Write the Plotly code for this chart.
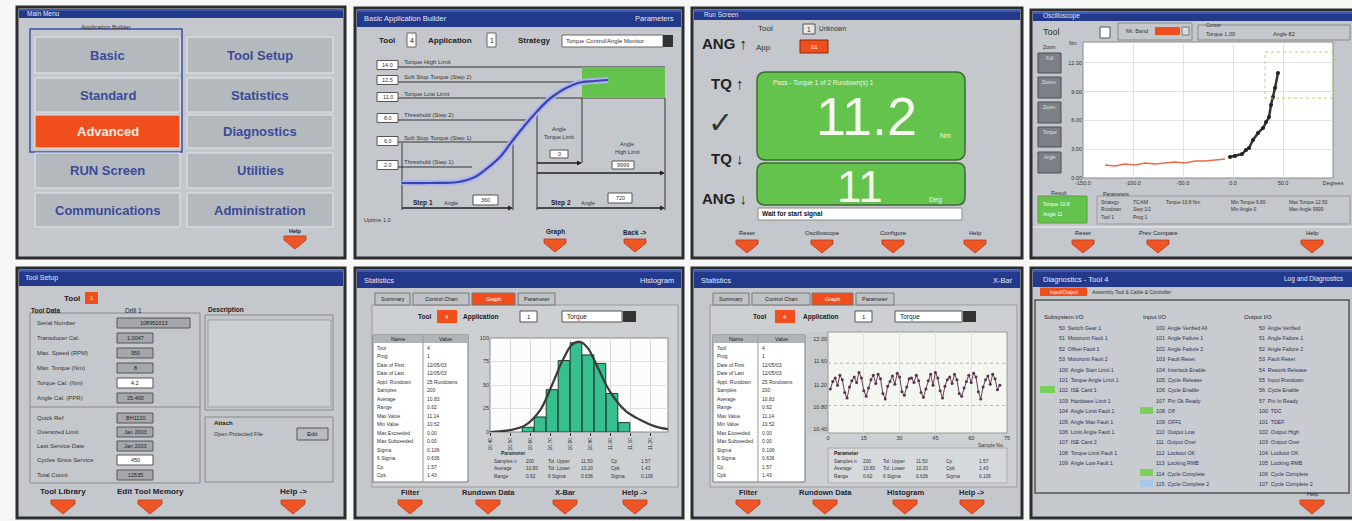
import plotly.graph_objects as go

W, H = 1352, 521
FONT = "Liberation Sans, Arial, sans-serif"

# ---------------- data ----------------
menu_left = ["Basic", "Standard", "Advanced", "RUN Screen", "Communications"]
menu_right = ["Tool Setup", "Statistics", "Diagnostics", "Utilities", "Administration"]
menu_selected = "Advanced"

builder_labels = ["Torque High Limit", "Soft Stop Torque (Step 2)", "Torque Low Limit",
                  "Threshold (Step 2)", "Soft Stop Torque (Step 1)", "Threshold (Step 1)"]
builder_values = ["14.0", "12.5", "11.0", "8.0", "6.0", "2.0"]
curve_angle = [7, 35, 63, 80, 90, 105, 118, 137, 157, 183, 200, 213]
curve_torque = [2.7, 2.7, 2.8, 3.3, 4.0, 5.3, 7.0, 9.3, 11.3, 12.7, 12.9, 13.0]

run_status = "Pass - Torque 1 of 2 Rundown(s) 1"
run_torque = "11.2"
run_angle = "11"
run_message = "Wait for start signal"

scope_red_angle = [22, 32, 42, 52, 62, 72, 82, 92, 102, 112, 122, 132, 142]
scope_red_torque = [1.35, 1.25, 1.46, 1.35, 1.56, 1.46, 1.56, 1.67, 1.56, 1.77, 1.77, 1.88, 1.98]
scope_black_angle = [147, 152, 159, 163, 166, 170, 175, 180, 183, 186, 188, 190, 192, 195]
scope_black_torque = [2.19, 2.29, 2.5, 2.92, 3.13, 3.96, 4.69, 5.21, 5.83, 6.35, 7.6, 8.44, 9.38, 10.94]
scope_xticks = [0, 50, 100, 150, 200, 250]
scope_xlabels = ["-150.0", "-100.0", "-50.0", "0.0", "50.0", "Degrees"]
scope_yticks = [0, 3, 6, 9, 12]
scope_ylabels = ["0.00", "3.00", "6.00", "9.00", "12.00"]
scope_buttons = ["Full", "Zoom+", "Zoom-", "Torque", "Angle"]
scope_params = [["Strategy", "TC/AM", "Torque 10.8 Nm", "Min Torque 9.80", "Max Torque 12.50"],
                ["Rundown", "Step 1/2", "", "Min Angle 0", "Max Angle 9999"],
                ["Tool 1", "Prog 1", "", "", ""]]

tool_fields_top = ["Serial Number", "Transducer Cal.", "Max. Speed (RPM)", "Max. Torque (Nm)",
                   "Torque Cal. (Nm)", "Angle Cal. (PPR)"]
tool_values_top = ["108951013", "1.0047", "950", "8", "4.2", "25.400"]
tool_fields_bot = ["Quick Ref.", "Oversized Limit", "Last Service Date", "Cycles Since Service", "Total Count"]
tool_values_bot = ["BH1120", "Jan 2003", "Jan 2003", "450", "12535"]

stat_names = ["Tool", "Prog", "Date of First", "Date of Last", "Appl. Rundown", "Samples", "Average",
              "Range", "Max Value", "Min Value", "Max Exceeded", "Max Subceeded", "Sigma", "6 Sigma",
              "Cp", "Cpk"]
stat_values = ["4", "1", "12/05/03", "12/05/03", "25 Rundowns", "200", "10.83", "0.62", "11.14",
               "10.52", "0.00", "0.00", "0.106", "0.636", "1.57", "1.43"]
param_rows = [["Samples n", "200", "Tol. Upper", "11.50", "Cp", "1.57"],
              ["Average", "10.83", "Tol. Lower", "10.20", "Cpk", "1.43"],
              ["Range", "0.62", "6 Sigma", "0.636", "Sigma", "0.106"]]

hist_centers = [10.59, 10.65, 10.71, 10.77, 10.83, 10.89, 10.95, 11.01, 11.07]
hist_counts = [5, 16, 45, 76, 95, 82, 73, 41, 10]
norm_x = [10.40, 10.50, 10.575, 10.65, 10.71, 10.765, 10.81, 10.85, 10.89, 10.94, 11.00, 11.075, 11.15, 11.225, 11.29]
norm_y = [0, 2, 7, 23, 50, 77, 93, 96, 89, 68, 43, 23, 13, 6, 3]
hist_xticks = [10.4, 10.5, 10.6, 10.7, 10.8, 10.9, 11.0, 11.1, 11.2]
hist_yticks = [0, 25, 50, 75, 100]

xbar_values = [48, 56, 60, 52, 63, 58, 44, 38,
               50, 57, 61, 55, 66, 60, 46, 40,
               49, 58, 63, 54, 64, 59, 43, 37,
               51, 56, 62, 53, 65, 61, 45, 41,
               50, 59, 60, 55, 63, 57, 44, 39,
               48, 57, 64, 52, 66, 60, 46, 38,
               51, 58, 61, 54, 64, 58, 43, 40,
               49, 56, 63, 55, 65, 61, 45, 37,
               50, 58, 62, 53, 64, 59, 47, 52]
xbar_ucl = 76
xbar_lcl = 30
xbar_xticks = [0, 15, 30, 45, 60, 75]
xbar_yticks = [4, 28, 52, 78, 102]
xbar_ylabels = ["10.40", "10.80", "11.20", "11.60", "12.00"]

diag_col1 = ["50  Switch Gear 1", "51  Motorunit Fault 1", "52  Offset Fault 1", "53  Motorunit Fault 2",
             "100  Angle Start Limit 1", "101  Torque Angle Limit 1", "102  ISE Card 1", "103  Hardware Limit 1",
             "104  Angle Limit Fault 1", "105  Angle Max Fault 1", "106  Limit Angle Fault 1", "107  ISE Card 2",
             "108  Torque Limit Fault 1", "109  Angle Low Fault 1"]
diag_col2 = ["100  Angle Verified All", "101  Angle Failure 1", "102  Angle Failure 2", "103  Fault Reset",
             "104  Interlock Enable", "105  Cycle Release", "106  Cycle Enable", "107  Pin Ok Ready",
             "108  Off", "109  OFF1", "110  Output Low", "111  Output Over", "112  Lockout OK",
             "113  Locking RMB", "114  Cycle Complete", "115  Cycle Complete 2"]
diag_col3 = ["50  Angle Verified", "51  Angle Failure 1", "52  Angle Failure 2", "53  Fault Reset",
             "54  Rework Release", "55  Input Rundown", "56  Cycle Enable", "57  Pin In Ready",
             "100  TDC", "101  TDEF", "102  Output High", "103  Output Over", "104  Lockout OK",
             "105  Locking RMB", "106  Cycle Complete", "107  Cycle Complete 2"]

# ---------------- helpers ----------------
shapes, ann = [], []
PANEL = "#c4c8cc"
FRAME = "#2c2d30"
TITLE = "#23398c"
BTN = "#b4b9be"
BTN_TXT = "#3b4a9a"
ORANGE = "#f04e1c"
GREEN = "#64c34c"
ARROW = "#ef5626"


def R(x0, y0, x1, y1, fill=None, line=None, w=1, dash=None, layer="below"):
    ln = dict(color=line if line else "rgba(0,0,0,0)", width=w if line else 0)
    if dash:
        ln["dash"] = dash
    shapes.append(dict(type="rect", xref="x", yref="y", x0=x0, y0=y0, x1=x1, y1=y1,
                       fillcolor=fill if fill else "rgba(0,0,0,0)", line=ln, layer=layer))


def L(x0, y0, x1, y1, color="#333", w=1, dash=None):
    ln = dict(color=color, width=w)
    if dash:
        ln["dash"] = dash
    shapes.append(dict(type="line", xref="x", yref="y", x0=x0, y0=y0, x1=x1, y1=y1, line=ln, layer="below"))


def P(path, fill, line=None, w=1):
    shapes.append(dict(type="path", xref="x", yref="y", path=path, fillcolor=fill,
                       line=dict(color=line if line else "rgba(0,0,0,0)", width=w if line else 0),
                       layer="below"))


def T(x, y, s, size=6, color="#222", xa="left", bold=False):
    ann.append(dict(x=x, y=y, xref="x", yref="y", text=("<b>%s</b>" % s) if bold else s,
                    showarrow=False, xanchor=xa, yanchor="middle", borderpad=0,
                    font=dict(family=FONT, size=size, color=color)))


def rrect(x0, y0, x1, y1, r, fill, line, w=1.5):
    p = (f"M{x0+r},{y0} L{x1-r},{y0} Q{x1},{y0} {x1},{y0+r} L{x1},{y1-r} Q{x1},{y1} {x1-r},{y1} "
         f"L{x0+r},{y1} Q{x0},{y1} {x0},{y1-r} L{x0},{y0+r} Q{x0},{y0} {x0+r},{y0} Z")
    P(p, fill, line, w)


def arrow(cx, ty, label, ly, size=6, bold=True, hw=11, h=13):
    P(f"M{cx-hw},{ty} L{cx+hw},{ty} L{cx+hw},{ty+4} L{cx},{ty+h} L{cx-hw},{ty+4} Z", ARROW, "#b8381a", 0.8)
    T(cx, ly, label, size, "#1e2430", "center", bold)


def panel(x0, y0, x1, y1, ty1):
    R(x0, y0, x1, y1, fill=PANEL, line=FRAME, w=3)
    R(x0 + 2, y0 + 2, x1 - 2, ty1, fill=TITLE)
    R(x0 + 2, y0 + 2, x1 - 2, y0 + 4, fill="#3a58b0")


def arrowhead(x, y):
    P(f"M{x-5},{y-2.5} L{x},{y} L{x-5},{y+2.5} Z", "#222")


# ================= Panel 1: Main menu =================
panel(17, 7, 345, 258, 18)
T(26, 13, "Main Menu", 6.5, "#e4e9f6")
R(30, 29, 182, 152, line="#3a4fa8", w=1.5)
T(106, 27, "Application Builder", 6, "#333", "center")
rows = [(37, 73), (78, 112), (115, 148), (153, 188), (193, 227)]
for i, (a, b) in enumerate(rows):
    for (xa, xb), lab in (((35, 180), menu_left[i]), ((187, 333), menu_right[i])):
        sel = lab == menu_selected
        R(xa, a, xb, b, fill=ORANGE if sel else BTN, line="#e4e7ea", w=1)
        T((xa + xb) / 2, (a + b) / 2, lab, 13, "#fbe9e0" if sel else BTN_TXT, "center", True)
arrow(295, 236, "Help", 231, 5.5)

# ================= Panel 2: Basic Application Builder =================
panel(355, 8, 683, 258, 27)
T(363, 18, "Basic Application Builder", 7.5, "#e4e9f6")
T(675, 18, "Parameters", 7.5, "#e4e9f6", "right")
T(378, 40, "Tool", 8, "#222", bold=True)
R(407, 33, 416, 47, fill="white", line="#666")
T(411.5, 40, "4", 7, "#222", "center")
T(427, 40, "Application", 8, "#222", bold=True)
R(487, 33, 496, 47, fill="white", line="#666")
T(491.5, 40, "1", 7, "#222", "center")
T(517, 40, "Strategy", 8, "#222", bold=True)
R(562, 35, 663, 47, fill="white", line="#666")
T(565, 41, "Torque Control/Angle Monitor", 6, "#333")
R(663, 35, 673, 47, fill="#333")
for y, x1 in ((67, 665), (82, 612), (98, 665), (120, 528), (142, 513), (167, 472)):
    L(377, y, x1, y, "#333", 1)
R(582, 67, 665, 98, fill=GREEN)
for yc, lab, val in zip((65, 80, 97, 118, 141, 165), builder_labels, builder_values):
    R(377, yc - 4.5, 398, yc + 4.5, fill="white", line="#555")
    T(387.5, yc, val, 5.5, "#333", "center")
    T(403, yc - 3.5, lab, 6, "#333")
for x, a, b in ((402, 143, 210), (513, 142, 210), (537, 113, 210), (582, 98, 163), (665, 98, 210)):
    L(x, a, x, b, "#333", 1)
for xa, xb, y in ((537, 582, 163), (537, 665, 173), (402, 513, 208), (537, 665, 208)):
    L(xa, y, xb - 3, y, "#222", 1.5)
    arrowhead(xb, y)
T(559, 129, "Angle", 5.5, "#333", "center")
T(559, 137, "Torque Limit", 5.5, "#333", "center")
R(550, 150, 568, 158, fill="white", line="#555")
T(559, 154, "0", 5.5, "#333", "center")
T(627, 144, "Angle", 5.5, "#333", "center")
T(627, 152, "High Limit", 5.5, "#333", "center")
R(612, 161, 634, 169, fill="white", line="#555")
T(623, 165, "9999", 5.5, "#333", "center")
T(412, 203, "Step 1", 6.5, "#222", bold=True)
T(443, 203, "Angle", 5.5, "#333")
R(473, 195, 498, 205, fill="white", line="#555")
T(485.5, 200, "360", 5.5, "#333", "center")
T(550, 203, "Step 2", 6.5, "#222", bold=True)
T(580, 203, "Angle", 5.5, "#333")
R(608, 193, 632, 203, fill="white", line="#555")
T(620, 198, "720", 5.5, "#333", "center")
T(363, 220, "Uptime 1.0", 5.5, "#333")
arrow(555, 239, "Graph", 232, 6.5)
arrow(635, 239, "Back ->", 232, 6.5)

# ================= Panel 3: Run screen =================
panel(692, 8, 1022, 258, 20)
T(703, 14, "Run Screen", 6.5, "#e4e9f6")
T(757, 28, "Tool", 8, "#333")
R(803, 24, 815, 34, fill="#e8e8e8", line="#555")
T(809, 29, "1", 6.5, "#333", "center")
T(818, 28, "Unknown", 6.5, "#333")
T(755, 47, "App", 8, "#333")
R(800, 40, 828, 53, fill=ORANGE, line="#8a2a10")
T(814, 46.5, "01", 6, "white", "center")
T(724, 43, "ANG ↑", 15, "#222", "center", True)
T(727, 83, "TQ ↑", 15, "#222", "center", True)
T(720, 122, "✓", 30, "#333", "center")
T(727, 158, "TQ ↓", 15, "#222", "center", True)
T(724, 198, "ANG ↓", 15, "#222", "center", True)
rrect(757, 72, 965, 160, 9, GREEN, "#3e6a34")
T(772, 83, run_status, 6.5, "#eef7e6")
T(866, 116, run_torque, 54, "#f4f8ee", "center")
T(939, 135, "Nm", 7, "#eef7e6")
rrect(757, 163, 965, 205, 8, GREEN, "#3e6a34")
T(860, 186, run_angle, 44, "#f4f8ee", "center")
T(928, 200, "Deg", 7, "#eef7e6")
R(758, 208, 962, 220, fill="white", line="#888")
T(761, 214, run_message, 6.5, "#111", bold=True)
for cx, lab in ((747, "Reset"), (822, "Oscilloscope"), (893, "Configure"), (975, "Help")):
    arrow(cx, 240, lab, 233, 6, False)

# ================= Panel 4: Oscilloscope =================
panel(1031, 10, 1358, 258, 21)
T(1042, 15.5, "Oscilloscope", 6.5, "#e4e9f6")
T(1042, 32, "Tool", 9, "#333")
R(1100, 27, 1110, 38, fill="white", line="#555")
R(1118, 23, 1192, 40, line="#888")
T(1125, 31, "Mr. Band", 5.5, "#333")
R(1155, 27, 1180, 35, fill=ORANGE)
R(1182, 27, 1189, 35, fill="#ddd", line="#777")
R(1198, 25, 1350, 40, line="#888")
T(1205, 25, "Cursor", 5, "#333")
T(1205, 34, "Torque 1.00", 5.5, "#333")
T(1272, 34, "Angle 82", 5.5, "#333")
T(1049, 47, "Zoom", 5, "#333", "center")
for (a, b), lab in zip(((53, 73), (77, 98), (102, 123), (127, 147), (152, 173)), scope_buttons):
    R(1038, a, 1061, b, fill="#7c8086", line="#4a4e54")
    T(1049.5, a + 5, lab, 4.5, "#e0e3e6", "center")
R(1083, 42, 1333, 178, fill="white", line="#888")
T(1068, 43, "Nm", 5, "#333")
T(1050, 193, "Result", 5.5, "#333")
R(1038, 196, 1087, 223, fill=GREEN, line="#5a9a48")
T(1042, 204, "Torque 10.8", 5, "white")
T(1042, 214, "Angle 11", 5, "white")
R(1097, 196, 1350, 224, line="#999")
T(1102, 194, "Parameters", 5, "#333")
for r, row in enumerate(scope_params):
    for xx, s in zip((1100, 1132, 1165, 1230, 1288), row):
        T(xx, 202 + r * 7.5, s, 4.8, "#333")
L(1033, 227, 1352, 227, "#e2e5e8", 1.5)
for cx, lab in ((1083, "Reset"), (1158, "Prev Compare"), (1312, "Help")):
    arrow(cx, 240, lab, 233, 6, False)

# ================= Panel 5: Tool setup =================
panel(17, 268, 345, 518, 286)
T(24, 278, "Tool Setup", 7, "#e4e9f6")
T(63, 298, "Tool", 8, "#222", bold=True)
R(85, 292, 98, 304, fill=ORANGE)
T(91.5, 298, "1", 6, "white", "center")
T(30, 310, "Tool Data", 6.5, "#222", bold=True)
T(133, 310, "Drill 1", 6.5, "#222", "center")
T(207, 310, "Description", 6.5, "#222", bold=True)
R(30, 313, 200, 483, line="#888")
L(30, 407, 200, 407, "#888")
white_vals = ("4.2", "450")
for y, f, v in zip((323, 338, 353, 368, 383, 398), tool_fields_top, tool_values_top):
    T(36, y, f, 6, "#333")
    R(117, y - 5, 190 if len(v) > 7 else 153, y + 5, fill="white" if v in white_vals else "#a4a8ad", line="#555")
    T((117 + (190 if len(v) > 7 else 153)) / 2, y, v, 5.5, "#222", "center")
for y, f, v in zip((418, 432, 446, 460, 475), tool_fields_bot, tool_values_bot):
    T(36, y, f, 6, "#333")
    R(117, y - 5, 153, y + 5, fill="white" if v in white_vals else "#a4a8ad", line="#555")
    T(135, y, v, 5.5, "#222", "center")
R(205, 315, 333, 410, line="#888")
R(208, 320, 331, 407, fill="#cbcfd3", line="#9aa0a6")
R(205, 417, 333, 482, line="#888")
T(213, 423, "Attach", 6, "#222", bold=True)
T(213, 434, "Open Protected File", 5.5, "#333")
R(297, 428, 328, 440, fill="#b8bcc0", line="#555")
T(312.5, 434, "Edit", 6, "#222", "center")
for cx, lab in ((63, "Tool Library"), (150, "Edit Tool Memory"), (293, "Help ->")):
    arrow(cx, 500, lab, 491, 8, True, 12, 14)

# ================= Panels 6 & 7: Statistics =================
def stats_panel(x0, x1, right_title, tabs, row, table, tbl_div):
    panel(x0, 268, x1, 518, 288)
    T(x0 + 8, 280, "Statistics", 7.5, "#e4e9f6")
    T(x1 - 8, 280, right_title, 7.5, "#e4e9f6", "right")
    R(tabs[0][0] - 3, 305, x1 - 5, 487, fill="#ccd0d3", line="#999")
    for a, b, lab in tabs:
        sel = lab == "Graph"
        R(a, 293, b, 305, fill=ORANGE if sel else "#bfc3c7", line="#777")
        T((a + b) / 2, 299, lab, 5.5, "white" if sel else "#222", "center")
    (tx, ob0, ob1, ax, ab0, ab1, d0, d1) = row
    T(tx, 316.5, "Tool", 6.5, "#222", bold=True)
    R(ob0, 310, ob1, 323, fill=ORANGE)
    T((ob0 + ob1) / 2, 316.5, "4", 6, "white", "center")
    T(ax, 316.5, "Application", 6.5, "#222", bold=True)
    R(ab0, 311, ab1, 322, fill="white", line="#555")
    T((ab0 + ab1) / 2, 316.5, "1", 6, "#222", "center")
    R(d0, 311, d1, 322, fill="white", line="#555")
    T(d0 + 4, 316.5, "Torque", 6.5, "#222")
    R(d1 + 1, 311, d1 + 14, 322, fill="#333")
    ta, tb = table
    R(ta, 335, tb, 482, fill="white", line="#777")
    R(ta, 335, tb, 343, fill="#b0b4b8")
    L(tbl_div, 335, tbl_div, 482, "#999")
    T((ta + tbl_div) / 2, 339, "Name", 5.3, "#222", "center")
    T((tbl_div + tb) / 2, 339, "Value", 5.3, "#222", "center")
    for i, (n, v) in enumerate(zip(stat_names, stat_values)):
        yy = 347.5 + i * 8.5
        T(ta + 3, yy, n, 5, "#333")
        T(tbl_div + 3, yy, v, 5, "#333")


stats_panel(355, 683, "Histogram",
            [(375, 410, "Summary"), (413, 469, "Control Chart"), (472, 515, "Graph"), (518, 555, "Parameter")],
            (417, 437, 457, 462, 520, 537, 562, 622), (373, 468), 423)
R(490, 338, 668, 432, fill="#fcfcfc", line="#888")
T(500, 453, "Parameter", 5, "#333", bold=True)
for r, row in enumerate(param_rows):
    for xx, s in zip((493, 525, 547, 580, 610, 640), row):
        T(xx, 461 + r * 7.5, s, 4.8, "#333")
for cx, lab in ((410, "Filter"), (488, "Rundown Data"), (565, "X-Bar"), (635, "Help ->")):
    arrow(cx, 500, lab, 492, 7.5, True, 12, 14)

stats_panel(692, 1022, "X-Bar",
            [(713, 749, "Summary"), (752, 810, "Control Chart"), (812, 853, "Graph"), (856, 894, "Parameter")],
            (752, 775, 795, 802, 855, 872, 895, 962), (713, 805), 758)
R(807, 332, 828, 433, fill="#c6cacd")
R(828, 332, 1007, 433, fill="#f3f7ef", line="#999")
T(1005, 445, "Sample No.", 5, "#333", "right")
R(828, 448, 1007, 483, fill="#d5d9dc", line="#aaa")
T(833, 453, "Parameter", 5, "#222", bold=True)
for r, row in enumerate(param_rows):
    for xx, s in zip((833, 862, 882, 915, 945, 978), row):
        T(xx, 461 + r * 7.5, s, 4.8, "#333")
for cx, lab in ((748, "Filter"), (825, "Rundown Data"), (905, "Histogram"), (972, "Help ->")):
    arrow(cx, 500, lab, 492, 7.5, True, 12, 14)

# ================= Panel 8: Diagnostics =================
panel(1031, 268, 1358, 518, 287)
T(1042, 279, "Diagnostics - Tool 4", 7.5, "#e4e9f6")
T(1345, 279, "Log and Diagnostics", 6.5, "#e4e9f6", "right")
R(1040, 287.5, 1087, 296, fill=ORANGE)
T(1063.5, 292, "Input/Output", 5, "white", "center")
T(1091, 292, "Assembly Tool & Cable & Controller", 5, "#333")
R(1035, 300, 1349, 493, fill="#c8ccd0", line="#555", w=1.5)
T(1043, 317, "Subsystem I/O", 6, "#223")
T(1142, 317, "Input I/O", 6, "#223")
T(1243, 317, "Output I/O", 6, "#223")
R(1040, 386, 1055, 393, fill="#7ccf5a")
R(1140, 407, 1153, 414, fill="#7ccf5a")
R(1140, 469, 1153, 476, fill="#7ccf5a")
R(1140, 480, 1153, 487, fill="#a8c8e8")
for col, xx in ((diag_col1, 1058), (diag_col2, 1155), (diag_col3, 1258)):
    for i, s in enumerate(col):
        T(xx, 328 + i * 10.4, s, 5.3, "#2a2f55")
arrow(1312, 500, "Help", 494, 5.5, False, 12, 14)

# ---------------- figure & subplots ----------------
def dom(x0, x1, y0, y1):
    return dict(domain=[x0 / W, x1 / W]), dict(domain=[1 - y1 / H, 1 - y0 / H])


fig = go.Figure()
# S-curve (panel 2)
fig.add_trace(go.Scatter(x=curve_angle, y=curve_torque, mode="lines", xaxis="x2", yaxis="y2",
                         line=dict(color="#b2b2ee", width=6, shape="spline"), hoverinfo="skip"))
fig.add_trace(go.Scatter(x=curve_angle, y=curve_torque, mode="lines", xaxis="x2", yaxis="y2",
                         line=dict(color="#3646b0", width=2.2, shape="spline")))
# Oscilloscope (panel 4)
fig.add_trace(go.Scatter(x=scope_red_angle, y=scope_red_torque, mode="lines", xaxis="x3", yaxis="y3",
                         line=dict(color="#ee6a44", width=1.5)))
fig.add_trace(go.Scatter(x=scope_black_angle, y=scope_black_torque, mode="lines+markers", xaxis="x3", yaxis="y3",
                         line=dict(color="#333", width=2.5), marker=dict(size=4, color="#222")))
# Histogram (panel 6)
fig.add_trace(go.Bar(x=hist_centers, y=hist_counts, width=0.058, xaxis="x4", yaxis="y4",
                     marker=dict(color="#36c08e", line=dict(color="#1d3d30", width=1))))
fig.add_trace(go.Scatter(x=norm_x, y=norm_y, mode="lines", xaxis="x4", yaxis="y4",
                         line=dict(color="#3a3a3a", width=2.2, shape="spline")))
# X-bar (panel 7)
xbar_x = list(range(1, len(xbar_values) + 1))
fig.add_trace(go.Scatter(x=[0, 75], y=[xbar_ucl, xbar_ucl], mode="lines", xaxis="x5", yaxis="y5",
                         line=dict(color="#c8a8b8", width=1, dash="dot")))
fig.add_trace(go.Scatter(x=[0, 75], y=[xbar_lcl, xbar_lcl], mode="lines", xaxis="x5", yaxis="y5",
                         line=dict(color="#c8a8b8", width=1, dash="dot")))
fig.add_trace(go.Scatter(x=xbar_x, y=xbar_values, mode="lines+markers", xaxis="x5", yaxis="y5",
                         line=dict(color="#6a3d5c", width=1), marker=dict(size=3, color="#5a3050")))

tick = dict(family=FONT, size=5.5, color="#333")
x2, y2 = dom(395, 665, 60, 210)
x3, y3 = dom(1083, 1333, 42, 178)
x4, y4 = dom(490, 668, 338, 432)
x5, y5 = dom(828, 1007, 332, 433)

fig.update_layout(
    width=W, height=H, margin=dict(l=0, r=0, t=0, b=0, pad=0, autoexpand=False),
    paper_bgcolor="#f7f7f5", plot_bgcolor="rgba(0,0,0,0)", showlegend=False,
    font=dict(family=FONT),
    xaxis=dict(domain=[0, 1], range=[0, W], visible=False, fixedrange=True, automargin=False),
    yaxis=dict(domain=[0, 1], range=[H, 0], visible=False, fixedrange=True, automargin=False),
    xaxis2=dict(**x2, anchor="y2", range=[0, 270], visible=False, automargin=False),
    yaxis2=dict(**y2, anchor="x2", range=[0, 15], visible=False, automargin=False),
    xaxis3=dict(**x3, anchor="y3", range=[0, 250], tickvals=scope_xticks, ticktext=scope_xlabels,
                tickfont=tick, showgrid=True, gridcolor="#e2e2e2", zeroline=False, showline=False,
                automargin=False),
    yaxis3=dict(**y3, anchor="x3", range=[0, 14.17], tickvals=scope_yticks, ticktext=scope_ylabels,
                tickfont=tick, showgrid=True, gridcolor="#e2e2e2", zeroline=False, showline=False,
                automargin=False),
    xaxis4=dict(**x4, anchor="y4", range=[10.40, 11.29], tickvals=hist_xticks, tickangle=-90,
                tickformat=".2f", tickfont=dict(family=FONT, size=5, color="#333"),
                showgrid=True, gridcolor="#d8d8d8", zeroline=False, showline=False, ticks="outside",
                ticklen=3, tickcolor="#333", automargin=False),
    yaxis4=dict(**y4, anchor="x4", range=[0, 100], tickvals=hist_yticks, tickfont=tick,
                showgrid=True, gridcolor="#e0e0e0", zeroline=False, showline=False, automargin=False),
    xaxis5=dict(**x5, anchor="y5", range=[0, 75], tickvals=xbar_xticks, tickfont=tick,
                showgrid=True, gridcolor="#e0e6da", zeroline=False, showline=False, automargin=False),
    yaxis5=dict(**y5, anchor="x5", range=[0, 110], tickvals=xbar_yticks, ticktext=xbar_ylabels,
                tickfont=tick, showgrid=False, zeroline=False, showline=False, automargin=False),
    shapes=shapes, annotations=ann,
)
fig.add_shape(type="rect", xref="x", yref="y", x0=1265, y0=52, x1=1333, y1=98,
              line=dict(color="#b6d86a", width=1, dash="dot"), layer="above")
fig.write_html("out.html", config={"displayModeBar": False},
               post_script="document.body.style.margin='0px';document.body.style.overflow='hidden';")
